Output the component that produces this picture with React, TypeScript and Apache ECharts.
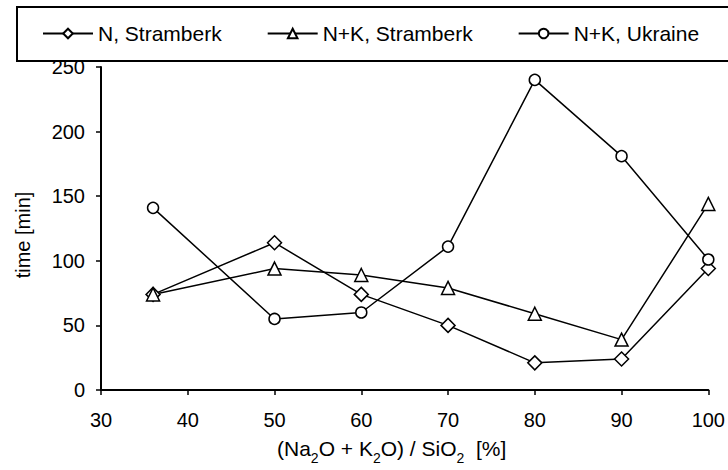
import React, { useEffect, useRef } from "react";
import * as echarts from "echarts";

const xValues = [36, 50, 60, 70, 80, 90, 100];
const nStramberk = [74, 114, 74, 50, 21, 24, 94];
const nkStramberk = [74, 94, 89, 79, 59, 39, 144];
const nkUkraine = [141, 55, 60, 111, 240, 181, 101];
const seriesNames = ["N, Stramberk", "N+K, Stramberk", "N+K, Ukraine"];

const FONT = "'Liberation Sans', Arial, sans-serif";

export default function App() {
  const ref = useRef<HTMLDivElement>(null);
  useEffect(() => {
    document.body.style.margin = "0";
    const chart = echarts.init(ref.current!, null, { renderer: "svg" });
    const pairs = (ys: number[]) => xValues.map((x, i) => [x, ys[i]]);
    const mk = (name: string, ys: number[], symbol: string, size: number) => ({
      name,
      type: "line",
      data: pairs(ys),
      symbol,
      symbolSize: size,
      showAllSymbol: true,
      lineStyle: { color: "#000", width: 1.5 },
      itemStyle: { color: "#fff", borderColor: "#000", borderWidth: 1.5 },
      emphasis: { disabled: true },
    });
    chart.setOption({
      animation: false,
      backgroundColor: "#fff",
      textStyle: { fontFamily: FONT, color: "#000" },
      legend: {
        data: seriesNames,
        left: 17,
        top: 7,
        width: 800,
        padding: [16, 40, 17, 25],
        itemWidth: 50,
        itemHeight: 12,
        itemGap: 45,
        borderColor: "#000",
        borderWidth: 2,
        backgroundColor: "#fff",
        textStyle: { fontSize: 21, color: "#000", fontFamily: FONT },
        z: 10,
      },
      grid: { left: 101, right: 18, top: 67, bottom: 76, containLabel: false },
      xAxis: {
        type: "value",
        min: 30,
        max: 100,
        interval: 10,
        splitLine: { show: false },
        axisLine: { lineStyle: { color: "#000", width: 2 } },
        axisTick: { length: 5, lineStyle: { color: "#000", width: 1.5 } },
        axisLabel: { fontSize: 20, color: "#000", margin: 20, fontFamily: FONT },
        name: "(Na{s|2}O + K{s|2}O) / SiO{s|2}  [%]",
        nameLocation: "middle",
        nameGap: 42,
        nameMoveOverlap: false,
        nameTextStyle: {
          fontSize: 21,
          color: "#000",
          fontFamily: FONT,
          lineHeight: 33,
          padding: [0, 26, 0, 0],
          rich: {
            s: { fontSize: 14, lineHeight: 14, verticalAlign: "bottom", fontFamily: FONT, color: "#000" },
          },
        },
      },
      yAxis: {
        type: "value",
        min: 0,
        max: 250,
        interval: 50,
        splitLine: { show: false },
        axisLine: { show: true, lineStyle: { color: "#000", width: 2 } },
        axisTick: { show: true, length: 5, lineStyle: { color: "#000", width: 1.5 } },
        axisLabel: { fontSize: 20, color: "#000", margin: 16, fontFamily: FONT },
        name: "time [min]",
        nameLocation: "middle",
        nameGap: 68,
        nameMoveOverlap: false,
        nameTextStyle: { fontSize: 20, color: "#000", fontFamily: FONT, padding: [0, 13, 0, 0] },
      },
      series: [
        mk(seriesNames[0], nStramberk, "diamond", 14),
        mk(seriesNames[1], nkStramberk, "triangle", 13),
        mk(seriesNames[2], nkUkraine, "circle", 11),
      ],
    });
    return () => chart.dispose();
  }, []);
  return <div ref={ref} style={{ width: 728, height: 470 }} />;
}
